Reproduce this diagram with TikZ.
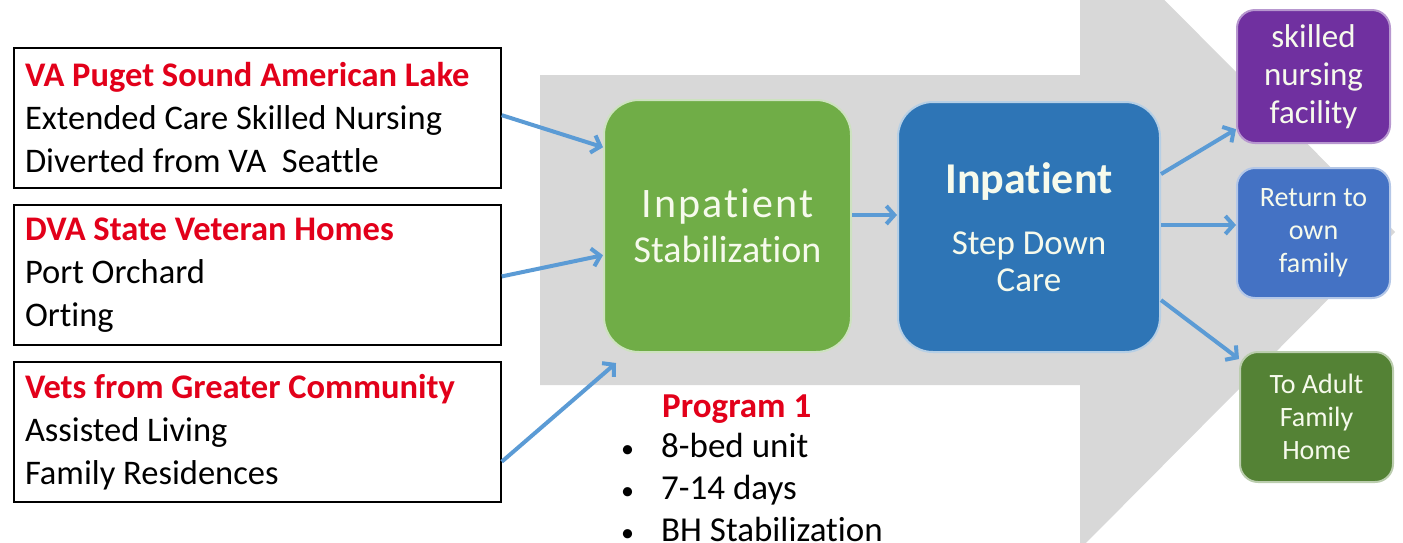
\documentclass[tikz,border=0pt]{standalone}
\usepackage{fontspec}
\setmainfont{Carlito}[Ligatures={CommonOff}]
\newfontfamily\spacedfont{Carlito}[LetterSpace=5,Ligatures={CommonOff}]
\usetikzlibrary{arrows.meta,calc}
\definecolor{vared}{RGB}{226,0,26}
\definecolor{bggray}{RGB}{216,216,216}
\definecolor{arrblue}{RGB}{91,155,213}
\definecolor{stabgreen}{RGB}{112,173,71}
\definecolor{stepblue}{RGB}{46,117,182}
\definecolor{snfpurple}{RGB}{112,48,160}
\definecolor{retblue}{RGB}{68,114,196}
\definecolor{afhgreen}{RGB}{84,130,53}
\definecolor{softwhite}{RGB}{246,250,236}
\tikzset{
  srcbox/.style={draw=black, line width=1.5pt, minimum width=487pt, minimum height=140pt,
    text width=465pt, align=flush left, inner sep=0pt, font=\fontsize{34.5}{43}\selectfont},
  arr/.style={draw=arrblue, line width=4pt, -{Straight Barb[length=8pt,width=18pt]}},
  bigbox/.style={rounded corners=35pt, line width=2pt, align=center, text=softwhite, inner sep=0pt},
  outbox/.style={rounded corners=18pt, line width=2pt, align=center, text=softwhite,
    minimum width=153pt, inner sep=0pt}
}
\newcommand{\hdtext}[1]{{\color{vared}\bfseries #1}}
\newcommand{\bul}{\makebox[40pt][l]{\fontsize{26}{26}\selectfont •}}
\begin{document}
\begin{tikzpicture}[x=1pt,y=-1pt]
\useasboundingbox (0,0) rectangle (1403,542);
\clip (0,0) rectangle (1403,542);
% big gray arrow
\fill[bggray] (540,75) -- (1080,75) -- (1080,-85) -- (1395,232) -- (1080,549) -- (1080,385) -- (540,385) -- cycle;

% source boxes
\node[srcbox, text width=465pt] (b1) at (257.5,118) {\hdtext{VA Puget Sound American Lake}\\Extended Care Skilled Nursing\\Diverted from VA\ \ Seattle};
\node[srcbox] (b2) at (257.5,275) {\hdtext{DVA State Veteran Homes}\\Port Orchard\\Orting};
\node[srcbox] (b3) at (257.5,432) {\hdtext{Vets from Greater Community}\\Assisted Living\\Family Residences};

% main boxes
\node[bigbox, fill=stabgreen, draw=stabgreen!35!white, minimum width=247pt, minimum height=252pt,
  font=\fontsize{38}{45}\selectfont] (stab) at (727.5,226)
  {{\spacedfont\fontsize{42}{45}\selectfont Inpatient}\\Stabilization};
\node[bigbox, fill=stepblue, draw=stepblue!35!white, minimum width=262pt, minimum height=250pt,
  font=\fontsize{35}{37}\selectfont] (step) at (1029,227)
  {{\bfseries\fontsize{44}{48}\selectfont Inpatient}\\[24pt]Step Down\\Care};

% outcome boxes
\node[outbox, fill=snfpurple, draw=snfpurple!50!white, minimum height=133pt,
  font=\fontsize{33}{38}\selectfont] (snf) at (1313.5,76.5) {skilled\\nursing\\facility};
\node[outbox, fill=retblue, draw=retblue!40!white, minimum height=130pt,
  font=\fontsize{28}{33}\selectfont] (ret) at (1313.5,233) {Return to\\own\\family};
\node[outbox, fill=afhgreen, draw=afhgreen!40!white, minimum height=130pt,
  font=\fontsize{28}{33}\selectfont] (afh) at (1316.5,417) {To Adult\\Family\\Home};

% program text
\node[anchor=west, inner sep=0pt, font=\fontsize{35}{42}\selectfont] (prog) at (662,409) {\hdtext{Program 1}};
\node[anchor=north west, inner sep=0pt, align=flush left, font=\fontsize{35}{42}\selectfont] (plist) at (621,433)
  {\bul 8-bed unit\\\bul 7-14 days\\\bul BH Stabilization};

% connectors
\draw[arr] ($(b1.north east)!0.48!(b1.south east)$) -- ($(stab.north west)!0.19!(stab.south west)$);
\draw[arr] ($(b2.north east)!0.51!(b2.south east)$) -- ($(stab.north west)!0.615!(stab.south west)$);
\draw[arr] ($(b3.north east)!0.71!(b3.south east)$) -- ($(stab.south west)+(13,10)$);
\draw[arr] ($(stab.east)+(0,-11)$) -- ($(step.west)+(0,-12)$);
\draw[arr] ($(step.north east)!0.29!(step.south east)$) -- ($(snf.north west)!0.89!(snf.south west)$);
\draw[arr] ($(step.east)+(0,-2)$) -- ($(ret.west)+(0,-8)$);
\draw[arr] ($(step.north east)!0.79!(step.south east)$) -- ($(afh.north west)+(0,8)$);
\end{tikzpicture}
\end{document}
